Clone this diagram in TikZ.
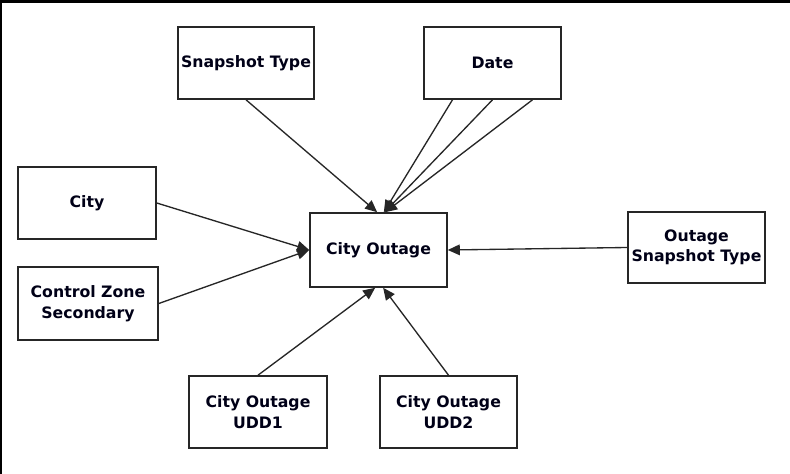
\documentclass[tikz,border=0pt]{standalone}
\usepackage{fontspec}
\setmainfont{DejaVu Sans}
\usetikzlibrary{arrows.meta}
\begin{document}
\begin{tikzpicture}[x=0.75pt,y=-0.75pt,
  box/.style={draw=black!85,line width=1.2pt,fill=white,minimum width=#1*0.75pt,
    align=center,font=\bfseries\fontsize{11.8}{15.5}\selectfont,text=black!85!blue!60!black,inner sep=0pt},
  box/.default=137,
  link/.style={line width=1pt,draw=black!85,-{Triangle[length=9pt,width=8pt]}}]
\useasboundingbox (0,0) rectangle (790,474);
\fill[white] (0,0) rectangle (790,474);
\draw[line width=2.2pt] (0,1.5) -- (790,1.5);
\draw[line width=1.6pt] (1,0) -- (1,474);
\node[box=136,minimum height=54pt] (snap) at (246,63) {Snapshot Type};
\node[box=137,minimum height=54pt] (date) at (492.5,63) {Date};
\node[box=138,minimum height=54pt] (city) at (87,203) {City};
\node[box=140,minimum height=55pt] (czs) at (88,303.5) {Control Zone\\Secondary};
\node[box=137,minimum height=55.5pt] (co) at (378.5,250) {City Outage};
\node[box=137,minimum height=53pt] (ost) at (696.5,247.5) {Outage\\Snapshot Type};
\node[box=138,minimum height=54pt] (u1) at (258,412) {City Outage\\UDD1};
\node[box=137,minimum height=54pt] (u2) at (448.5,412) {City Outage\\UDD2};
\draw[link] (snap.south) -- ([xshift=-1pt]co.north);
\draw[link] ([xshift=-30pt]date.south) -- ([xshift=4pt]co.north);
\draw[link] (date.south) -- ([xshift=4.5pt]co.north);
\draw[link] ([xshift=30pt]date.south) -- ([xshift=5pt]co.north);
\draw[link] (city.east) -- (co.west);
\draw[link] (czs.east) -- (co.west);
\draw[link] (ost.west) -- (co.east);
\draw[link] (u1.north) -- ([xshift=-2.5pt]co.south);
\draw[link] (u2.north) -- ([xshift=3.5pt]co.south);
\end{tikzpicture}
\end{document}
